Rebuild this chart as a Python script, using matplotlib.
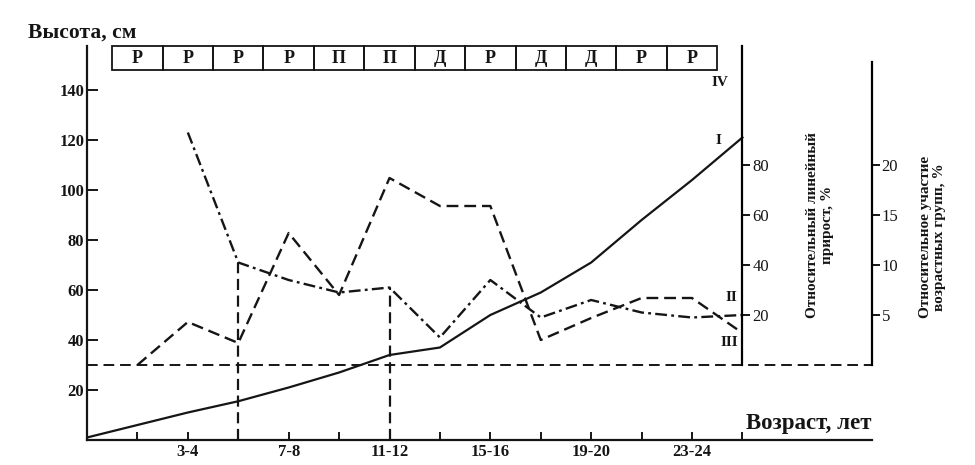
import matplotlib.pyplot as plt
from matplotlib.patches import Rectangle

plt.rcParams['font.family'] = ['Liberation Serif', 'DejaVu Serif']
plt.rcParams['font.weight'] = 'bold'

INK = '#151515'

# age groups (tick index -> label)
age_pos = list(range(14))
age_labels = ['', '', '3-4', '', '7-8', '', '11-12', '', '15-16', '', '19-20', '', '23-24', '']

# I - height, cm
height_x = list(range(14))
height_cm = [1, 6, 11, 15.5, 21, 27, 34, 37, 50, 59, 71, 88, 104, 121]

# II - relative linear growth, %
growth_x = list(range(2, 14))
growth_pct = [93, 41, 34, 29, 31, 11, 34, 19, 26, 21, 19, 20]

# III - relative share of age groups, %
share_x = list(range(1, 14))
share_pct = [0, 4.3, 2.2, 13.2, 7.0, 18.7, 15.9, 15.9, 2.5, 4.7, 6.7, 6.7, 3.2]

# IV - periods
period_labels = ['Р', 'Р', 'Р', 'Р', 'П', 'П', 'Д', 'Р', 'Д', 'Д', 'Р', 'Р']

# vertical markers at period boundaries
marker_x = [3, 6]

fig = plt.figure(figsize=(9.75, 4.65), dpi=100)
ax = fig.add_axes([87 / 975, 25 / 465, 785 / 975, 394 / 465])

# main axis: height
ax.set_xlim(0, 15.57)
ax.set_ylim(0, 157.6)
ax.plot(height_x, height_cm, color=INK, lw=1.6)

ax.spines['top'].set_visible(False)
ax.spines['right'].set_visible(False)
for s in ('left', 'bottom'):
    ax.spines[s].set_linewidth(1.6)
    ax.spines[s].set_color(INK)

ax.set_xticks(age_pos[1:])
ax.set_xticklabels(age_labels[1:], fontsize=12, fontweight='bold')
ax.tick_params(axis='x', direction='in', length=6, width=1.4, pad=3, colors=INK)
ax.set_yticks([20, 40, 60, 80, 100, 120, 140])
ax.set_yticklabels(['20', '40', '60', '80', '100', '120', '140'], fontsize=12, fontweight='bold')
ax.tick_params(axis='y', direction='in', length=8, width=1.4, pad=2, colors=INK)

# zero line of the right-hand scales
ax.axhline(30, color=INK, lw=1.4, ls=(0, (5.5, 3)))

# growth axis (0 at 30 cm, same px per unit)
ax2 = ax.twinx()
ax2.set_ylim(-30, 127.6)
ax2.plot(growth_x, growth_pct, color=INK, lw=1.7, ls=(0, (5, 1.8, 1.2, 1.8)))
ax2.vlines(marker_x, -30, [growth_pct[growth_x.index(m)] for m in marker_x],
           color=INK, lw=1.6, ls=(0, (5, 2.5)))
for s in ('top', 'left', 'bottom'):
    ax2.spines[s].set_visible(False)
ax2.spines['right'].set_position(('data', 13))
ax2.spines['right'].set_bounds(0, 127.6)
ax2.spines['right'].set_linewidth(1.6)
ax2.set_yticks([20, 40, 60, 80])
ax2.set_yticklabels(['20', '40', '60', '80'], fontsize=12, fontweight='normal')
ax2.tick_params(axis='y', direction='out', length=6, width=1.4, pad=1, colors=INK)

# share axis (0 at 30 cm, 4 cm per unit)
ax3 = ax.twinx()
ax3.set_ylim(-7.5, 31.9)
ax3.plot(share_x, share_pct, color=INK, lw=1.7, ls=(0, (5, 2.5)))
for s in ('top', 'left', 'bottom'):
    ax3.spines[s].set_visible(False)
ax3.spines['right'].set_bounds(0, 30.3)
ax3.spines['right'].set_linewidth(1.6)
ax3.set_yticks([5, 10, 15, 20])
ax3.set_yticklabels(['5', '10', '15', '20'], fontsize=12, fontweight='normal')
ax3.tick_params(axis='y', direction='out', length=6, width=1.4, pad=1, colors=INK)

# period boxes on top
for k, lab in enumerate(period_labels):
    ax.add_patch(Rectangle((k + 0.5, 148), 1, 9.6, fill=False, lw=1.3,
                           ec=INK, clip_on=False))
    ax.text(k + 1, 152.8, lab, ha='center', va='center', fontsize=13,
            fontweight='bold', color=INK)

# curve labels
ax.text(12.52, 120, 'I', ha='center', va='center', fontsize=11, color=INK)
ax.text(12.78, 57, 'II', ha='center', va='center', fontsize=11, color=INK)
ax.text(12.74, 39, 'III', ha='center', va='center', fontsize=11, color=INK)
ax.text(12.55, 143, 'IV', ha='center', va='center', fontsize=11, color=INK)

# axis titles
fig.text(28 / 975, 1 - 33 / 465, 'Высота, см', ha='left', va='center',
         fontsize=15.5, fontweight='bold', color=INK)
fig.text(746 / 975, 1 - 423 / 465, 'Возраст, лет', ha='left', va='center',
         fontsize=16.5, fontweight='bold', color=INK)
fig.text(820 / 975, 1 - 225 / 465, 'Относительный линейный\nприрост, %',
         rotation=90, ha='center', va='center', fontsize=11,
         fontweight='bold', color=INK, linespacing=1.1)
fig.text(932 / 975, 1 - 237 / 465, 'Относительное участие\nвозрастных групп, %',
         rotation=90, ha='center', va='center', fontsize=11,
         fontweight='bold', color=INK, linespacing=1.1)

fig.savefig('out.png', dpi=100)
